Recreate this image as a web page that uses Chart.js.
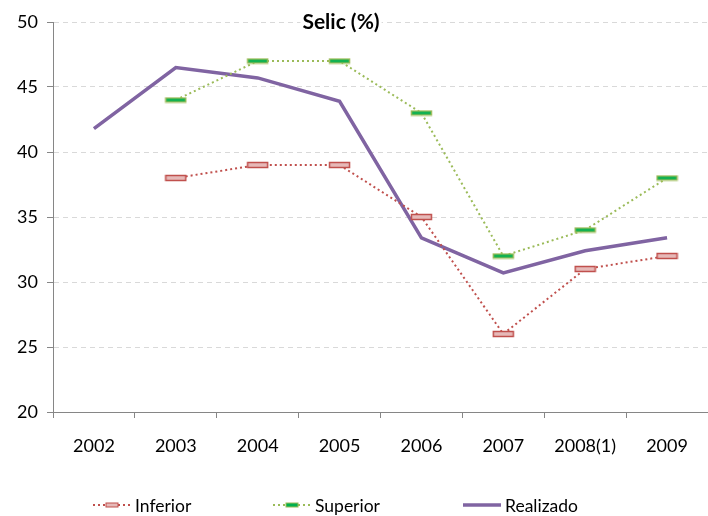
<!DOCTYPE html>
<html lang="pt">
<head>
  <meta charset="UTF-8">
  <title>Selic (%)</title>
  <script src="https://cdn.jsdelivr.net/npm/chart.js"></script>
  <style>
    html, body { margin: 0; padding: 0; background: #fff; }
    #wrap { width: 708px; height: 516px; }
  </style>
</head>
<body>
  <div id="wrap"><canvas id="selicChart" width="708" height="516"></canvas></div>

  <script>
    // data
    const years = ['2002', '2003', '2004', '2005', '2006', '2007', '2008(1)', '2009'];
    const inferior = [null, 38, 39, 39, 35, 26, 31, 32];
    const superior = [null, 44, 47, 47, 43, 32, 34, 38];
    const realizado = [41.8, 46.5, 45.7, 43.9, 33.4, 30.7, 32.4, 33.4];
    const yTicks = [20, 25, 30, 35, 40, 45, 50];

    const FONT = 'Lato, "Open Sans", sans-serif';

    // little flat boxes used as markers
    function makeBox(w, h, fill, stroke) {
      const c = document.createElement('canvas');
      c.width = w + 3; c.height = h + 3;
      const g = c.getContext('2d');
      g.fillStyle = fill;
      g.fillRect(1.5, 1.5, w, h);
      g.strokeStyle = stroke;
      g.lineWidth = 1.5;
      g.strokeRect(1.5, 1.5, w, h);
      return c;
    }
    const infBox = makeBox(20, 5, '#e6b9b8', '#c0504d');
    const supBox = makeBox(20, 4, '#00b050', '#9bbb59');

    // legend drawn by hand, Excel style (line with marker in the middle)
    const legendPlugin = {
      id: 'excelLegend',
      afterDraw(chart) {
        const ctx = chart.ctx;
        const y = 505;
        const items = [
          { x: 93, text: 'Inferior', color: '#c0504d', dash: [2, 3], width: 2, fill: '#e6b9b8' },
          { x: 273, text: 'Superior', color: '#9bbb59', dash: [2, 3], width: 2, fill: '#00b050' },
          { x: 463, text: 'Realizado', color: '#8064a2', dash: [], width: 3.5, fill: null }
        ];
        ctx.save();
        items.forEach(it => {
          ctx.beginPath();
          ctx.setLineDash(it.dash);
          ctx.strokeStyle = it.color;
          ctx.lineWidth = it.width;
          ctx.moveTo(it.x, y);
          ctx.lineTo(it.x + 38, y);
          ctx.stroke();
          ctx.setLineDash([]);
          if (it.fill) {
            ctx.fillStyle = it.fill;
            ctx.fillRect(it.x + 13, y - 2, 12, 4);
            ctx.strokeStyle = it.color;
            ctx.lineWidth = 1;
            ctx.strokeRect(it.x + 13, y - 2, 12, 4);
          }
          ctx.fillStyle = '#000';
          ctx.font = '17.5px ' + FONT;
          ctx.textBaseline = 'middle';
          ctx.textAlign = 'left';
          ctx.fillText(it.text, it.x + 42, y + 1);
        });
        ctx.restore();
      }
    };

    // title sits inside the plot, over the top gridline
    const titlePlugin = {
      id: 'innerTitle',
      afterDraw(chart) {
        const ctx = chart.ctx;
        ctx.save();
        ctx.font = 'bold 21px ' + FONT;
        const w = ctx.measureText('Selic (%)').width;
        ctx.fillStyle = '#fff';
        ctx.fillRect(341 - w / 2 - 2, 10, w + 4, 24);
        ctx.fillStyle = '#000';
        ctx.textAlign = 'center';
        ctx.textBaseline = 'middle';
        ctx.fillText('Selic (%)', 341, 22);
        ctx.restore();
      }
    };

    const ctx = document.getElementById('selicChart').getContext('2d');
    const chart = new Chart(ctx, {
      type: 'line',
      data: {
        labels: years,
        datasets: [
          {
            label: 'Inferior',
            data: inferior,
            borderColor: '#c0504d',
            borderWidth: 2,
            borderDash: [2, 3],
            pointStyle: infBox,
            pointRadius: 5,
            fill: false,
            tension: 0
          },
          {
            label: 'Superior',
            data: superior,
            borderColor: '#9bbb59',
            borderWidth: 2,
            borderDash: [2, 3],
            pointStyle: supBox,
            pointRadius: 5,
            fill: false,
            tension: 0
          },
          {
            label: 'Realizado',
            data: realizado,
            borderColor: '#8064a2',
            borderWidth: 3.5,
            pointRadius: 0,
            fill: false,
            tension: 0
          }
        ]
      },
      options: {
        responsive: false,
        animation: false,
        events: [],
        layout: { autoPadding: false, padding: { top: 22, right: -5, bottom: 0, left: 0 } },
        plugins: {
          legend: { display: false },
          title: { display: false },
          tooltip: { enabled: false }
        },
        scales: {
          x: {
            offset: true,
            grid: { offset: true, drawOnChartArea: false, tickLength: 6, color: '#868686' },
            border: { color: '#868686', width: 1 },
            ticks: { color: '#000', font: { family: FONT, size: 18 }, padding: 17, maxRotation: 0 },
            afterFit(scale) {
              scale.height = 104;
              scale.paddingLeft = 0;
              scale.paddingRight = 0;
            }
          },
          y: {
            min: 20,
            max: 50,
            afterBuildTicks(scale) { scale.ticks = yTicks.map(v => ({ value: v })); },
            grid: { color: '#d9d9d9', tickColor: '#868686', tickLength: 6, tickBorderDash: [] },
            border: { color: '#868686', width: 1, dash: [5, 4] },
            ticks: { color: '#000', font: { family: FONT, size: 18 }, padding: 9 },
            afterFit(scale) {
              scale.width = 53;
              scale.paddingTop = 0;
              scale.paddingBottom = 0;
            }
          }
        }
      },
      plugins: [legendPlugin, titlePlugin]
    });
  </script>
</body>
</html>
